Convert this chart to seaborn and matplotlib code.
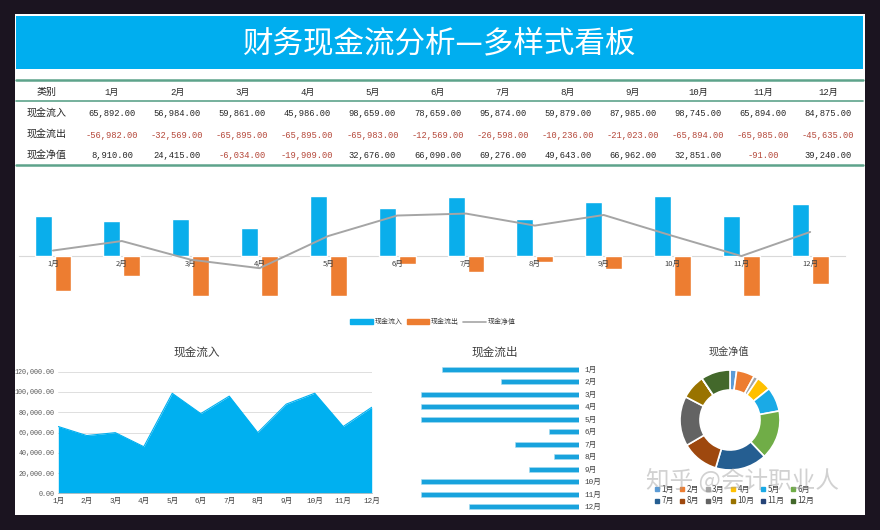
import numpy as np
import pandas as pd
import matplotlib
matplotlib.use("Agg")
import matplotlib.pyplot as plt
import seaborn as sns
from matplotlib.patches import Rectangle, Patch
from matplotlib.lines import Line2D

# ---------------- data ----------------
months = [f"{i}月" for i in range(1, 13)]
row_names = ["现金流入", "现金流出", "现金净值"]
inflow = [65892, 56984, 59861, 45986, 98659, 78659, 95874, 59879, 87985, 98745, 65894, 84875]
outflow = [-56982, -32569, -65895, -65895, -65983, -12569, -26598, -10236, -21023, -65894, -65985, -45635]
net = [8910, 24415, -6034, -19909, 32676, 66090, 69276, 49643, 66962, 32851, -91, 39240]
area_yticks = [0, 20000, 40000, 60000, 80000, 100000, 120000]
title = "财务现金流分析—多样式看板"

# ---------------- style ----------------
sns.set_theme(style="white")
plt.rcParams["font.family"] = ["Noto Sans CJK SC", "DejaVu Sans"]
MONO = ["Liberation Mono", "Noto Sans CJK SC", "DejaVu Sans"]

W, H = 880, 530
fig = plt.figure(figsize=(8.8, 5.3), dpi=100)
fig.patch.set_facecolor("#1b1420")


def fx(x):
    return x / W


def fy(y):
    return 1 - y / H


def px_axes(x0, y0, x1, y1):
    return fig.add_axes([x0 / W, 1 - y1 / H, (x1 - x0) / W, (y1 - y0) / H])


def rect(x0, y0, x1, y1, color, z=0):
    fig.add_artist(Rectangle((fx(x0), fy(y1)), (x1 - x0) / W, (y1 - y0) / H,
                             transform=fig.transFigure, facecolor=color,
                             edgecolor="none", zorder=z))


def hline(y, x0, x1, color, lw):
    fig.add_artist(Line2D([fx(x0), fx(x1)], [fy(y), fy(y)], color=color, lw=lw,
                          transform=fig.transFigure, zorder=1))


BLUE = "#0AAEEB"
ORANGE = "#ED7D31"
GRAY = "#A5A5A5"

# white panel and banner
rect(15, 14, 865, 515, "white", z=0)
rect(16, 16, 863, 69, "#00AEEF", z=0.5)
fig.text(fx(440), fy(44), title, color="white", fontsize=22, ha="center", va="center")

# ---------------- table ----------------
TEAL = "#5DA38B"
hline(80, 16, 863, TEAL, 1.8)
hline(101, 16, 863, TEAL, 1.2)
hline(165, 16, 863, TEAL, 1.8)
col_x = [112 + 65.1 * i for i in range(12)]
row_y = [114, 135, 156]
fig.text(fx(47), fy(92), "类别", fontsize=7.2, ha="center", va="center", color="#262626")
for cx, m in zip(col_x, months):
    fig.text(fx(cx), fy(92), m, fontsize=6.5, family=MONO, ha="center", va="center", color="#262626")
for ry, name, vals in zip(row_y, row_names, [inflow, outflow, net]):
    fig.text(fx(47), fy(ry), name, fontsize=7.2, ha="center", va="center", color="#262626")
    for cx, v in zip(col_x, vals):
        fig.text(fx(cx), fy(ry), f"{v:,.2f}", fontsize=6.3, family=MONO, ha="center",
                 va="center", color="#B5483A" if v < 0 else "#262626")

# ---------------- combo chart ----------------
ax = px_axes(18.6, 190, 844.6, 300)
df = pd.DataFrame({"月份": months * 2, "金额": inflow + outflow,
                   "类型": [row_names[0]] * 12 + [row_names[1]] * 12})
sns.barplot(data=df, x="月份", y="金额", hue="类型", palette=[BLUE, ORANGE],
            width=0.58, gap=0.15, saturation=1, legend=False, ax=ax)
sns.lineplot(x=np.arange(12), y=net, color=GRAY, lw=1.4, ax=ax, zorder=3)
ax.set_xlim(-0.5, 11.5)
ax.set_ylim(-71900, 107800)
ax.set_facecolor("none")
ax.set_axisbelow(False)
for s in ["top", "left", "right"]:
    ax.spines[s].set_visible(False)
ax.spines["bottom"].set_position(("data", 0))
ax.spines["bottom"].set_color("#D9D9D9")
ax.spines["bottom"].set_linewidth(0.8)
ax.spines["bottom"].set_zorder(0.5)
ax.set_yticks([])
ax.tick_params(axis="x", length=0, labelsize=5.5, pad=3, labelcolor="#404040")
ax.set_xlabel("")
ax.set_ylabel("")

handles = [Patch(color=BLUE, label=row_names[0]), Patch(color=ORANGE, label=row_names[1]),
           Line2D([], [], color=GRAY, lw=1.2, label=row_names[2])]
fig.legend(handles=handles, loc="center", bbox_to_anchor=(fx(433), fy(322)), ncol=3,
           frameon=False, fontsize=5, handlelength=3.2, handleheight=0.6,
           columnspacing=0.6, handletextpad=0.3, labelcolor="#404040")

# ---------------- area chart ----------------
ax2 = px_axes(58.3, 371.7, 371.7, 493.3)
x = np.arange(12)
ax2.fill_between(x, inflow, color="#00B0F0", lw=0, zorder=2)
sns.lineplot(x=x, y=inflow, color="#00B0F0", lw=0.8, ax=ax2, zorder=3)
ax2.set_xlim(0, 11)
ax2.set_ylim(0, 120000)
ax2.set_yticks(area_yticks)
ax2.set_yticklabels([f"{v:,.2f}" for v in area_yticks], family=MONO, fontsize=4.9, color="#595959")
ax2.set_xticks(x)
ax2.set_xticklabels(months, family=MONO, fontsize=5.5, color="#404040")
ax2.grid(axis="y", color="#D9D9D9", lw=0.6, zorder=0)
ax2.set_axisbelow(True)
for s in ["top", "left", "right"]:
    ax2.spines[s].set_visible(False)
ax2.spines["bottom"].set_color("#BFBFBF")
ax2.spines["bottom"].set_linewidth(0.6)
ax2.tick_params(length=0, pad=3)
ax2.set_xlabel("")
ax2.set_ylabel("")
fig.text(fx(197), fy(352), row_names[0], fontsize=8.4, ha="center", va="center", color="#404040")

# ---------------- horizontal bars ----------------
ax3 = px_axes(411, 363, 579, 513)
sns.barplot(x=np.abs(outflow), y=months, orient="h", color="#18A3DD", saturation=1,
            width=0.42, edgecolor="#A8DDF2", linewidth=0.4, ax=ax3)
ax3.set_xlim(70000, 0)
ax3.yaxis.tick_right()
ax3.set_xticks([])
ax3.tick_params(axis="y", length=0, labelsize=5.5, pad=4, labelcolor="#404040")
for lab in ax3.get_yticklabels():
    lab.set_family(MONO)
for s in ax3.spines.values():
    s.set_visible(False)
ax3.set_xlabel("")
ax3.set_ylabel("")
ax3.set_facecolor("none")
fig.text(fx(495), fy(352), row_names[1], fontsize=8.4, ha="center", va="center", color="#404040")

# ---------------- donut ----------------
pie_colors = ["#5B9BD5", "#ED7D31", "#A5A5A5", "#FFC000", "#1AAAE6", "#70AD47",
              "#255E91", "#9E480E", "#636363", "#997300", "#264478", "#43682B"]
ax4 = px_axes(679, 369, 781, 471)
ax4.pie(np.abs(net), startangle=90, counterclock=False, colors=pie_colors,
        wedgeprops=dict(width=0.4, edgecolor="white", linewidth=1.2))
ax4.set_xlim(-1.02, 1.02)
ax4.set_ylim(-1.02, 1.02)
ax4.set_aspect("equal")
fig.text(fx(729), fy(352), row_names[2], fontsize=7.3, ha="center", va="center", color="#404040")

order = [0, 6, 1, 7, 2, 8, 3, 9, 4, 10, 5, 11]
dh = [Line2D([], [], marker="s", ls="none", markersize=3.2, color=pie_colors[i],
             label=months[i]) for i in order]
fig.legend(handles=dh, loc="center", bbox_to_anchor=(fx(734), fy(495)), ncol=6,
           frameon=False, fontsize=5.8, handlelength=0.7, handletextpad=0.2,
           columnspacing=0.7, labelspacing=0.35, labelcolor="#404040")

# watermark
fig.text(fx(742), fy(480), "知乎 @会计职业人", fontsize=17, color="#9a9a9a", alpha=0.45,
         ha="center", va="center", zorder=20)

fig.savefig("out.png", dpi=100, facecolor=fig.get_facecolor())
